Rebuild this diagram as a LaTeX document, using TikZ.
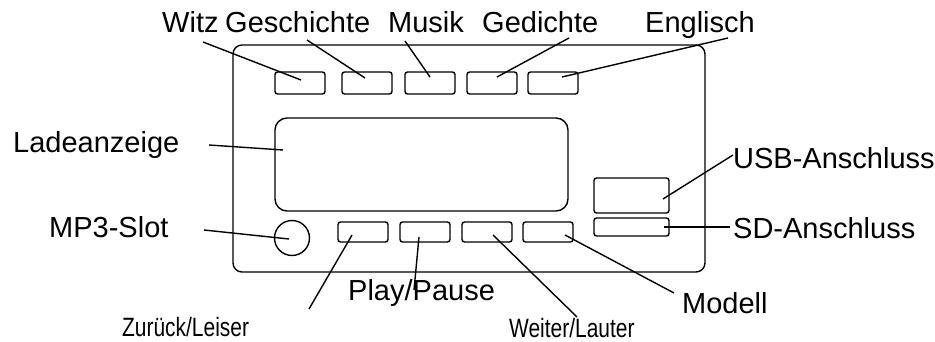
\documentclass[tikz,border=0pt]{standalone}
\usepackage{fontspec}
\setmainfont{Liberation Sans}
\newfontfamily\narrowfont[FakeStretch=0.79]{Liberation Sans}
\begin{document}
\begin{tikzpicture}[x=1pt,y=-1pt,
  lbl/.style={inner sep=0pt,anchor=base west,font=\fontsize{29}{30}\selectfont},
  nlbl/.style={inner sep=0pt,anchor=base west,font=\narrowfont\fontsize{26.5}{28}\selectfont},
  part/.style={draw,line width=1.4pt,rounded corners=2.5pt,inner sep=0pt},
  lead/.style={line width=1.4pt}]
\useasboundingbox (0,0) rectangle (935,342);
% housing
\draw[line width=1.4pt,rounded corners=9pt] (233,45) rectangle (705,272);
% display
\node[part,rounded corners=12pt,minimum width=293pt,minimum height=93pt] (disp) at (421.5,164.5) {};
% top buttons
\foreach \n/\x in {1/300,2/367,3/430,4/492,5/553}
  \node[part,minimum width=50pt,minimum height=22pt] (tb\n) at (\x,83) {};
% bottom buttons
\foreach \n/\x in {1/363,2/425,3/487,4/548}
  \node[part,minimum width=50pt,minimum height=20pt] (bb\n) at (\x,232) {};
% USB, SD
\node[part,minimum width=75pt,minimum height=35pt] (usb) at (631.5,195.5) {};
\node[part,minimum width=75pt,minimum height=18pt] (sd) at (631.5,227) {};
% MP3 slot
\node[draw,circle,line width=1.4pt,minimum size=35pt,inner sep=0pt] (slot) at (292,238) {};
% labels
\node[lbl] (lwitz) at (162,33) {Witz};
\node[lbl] (lgesch) at (225,33) {Geschichte};
\node[lbl] (lmusik) at (388,33) {Musik};
\node[lbl] (lged) at (482,33) {Gedichte};
\node[lbl] (leng) at (645,33) {Englisch};
\node[lbl] (llade) at (13,153) {Ladeanzeige};
\node[lbl] (lmp3) at (49,237) {MP3-Slot};
\node[lbl] (lusb) at (733,168) {USB-Anschluss};
\node[lbl] (lsd) at (733,238) {SD-Anschluss};
\node[lbl] (lplay) at (348,300) {Play/Pause};
\node[lbl] (lmod) at (682,313) {Modell};
\node[nlbl] (lzur) at (122,336) {Zurück/Leiser};
\node[nlbl] (lweit) at (509,337) {Weiter/Lauter};
% leader end points
\coordinate (a1) at (203,42);  \coordinate (e1) at (301,80);
\coordinate (a2) at (307,40);  \coordinate (e2) at (365,78);
\coordinate (a3) at (405,41);  \coordinate (e3) at (430,77);
\coordinate (a4) at (569,38);  \coordinate (e4) at (497,77);
\coordinate (a5) at (728,38);  \coordinate (e5) at (562,77);
\coordinate (a6) at (209,145); \coordinate (e6) at (283,150);
\coordinate (a7) at (204,230); \coordinate (e7) at (289,239);
\coordinate (a8) at (733,155); \coordinate (e8) at (663,199);
\coordinate (a9) at (730,227); \coordinate (e9) at (664,227);
\coordinate (a10) at (309,309); \coordinate (e10) at (352,235);
\coordinate (a11) at (414,290); \coordinate (e11) at (419,237);
\coordinate (a12) at (577,317); \coordinate (e12) at (493,235);
\coordinate (a13) at (674,293); \coordinate (e13) at (565,235);
\foreach \i in {1,...,13} \draw[lead] (a\i) -- (e\i);
\end{tikzpicture}
\end{document}
